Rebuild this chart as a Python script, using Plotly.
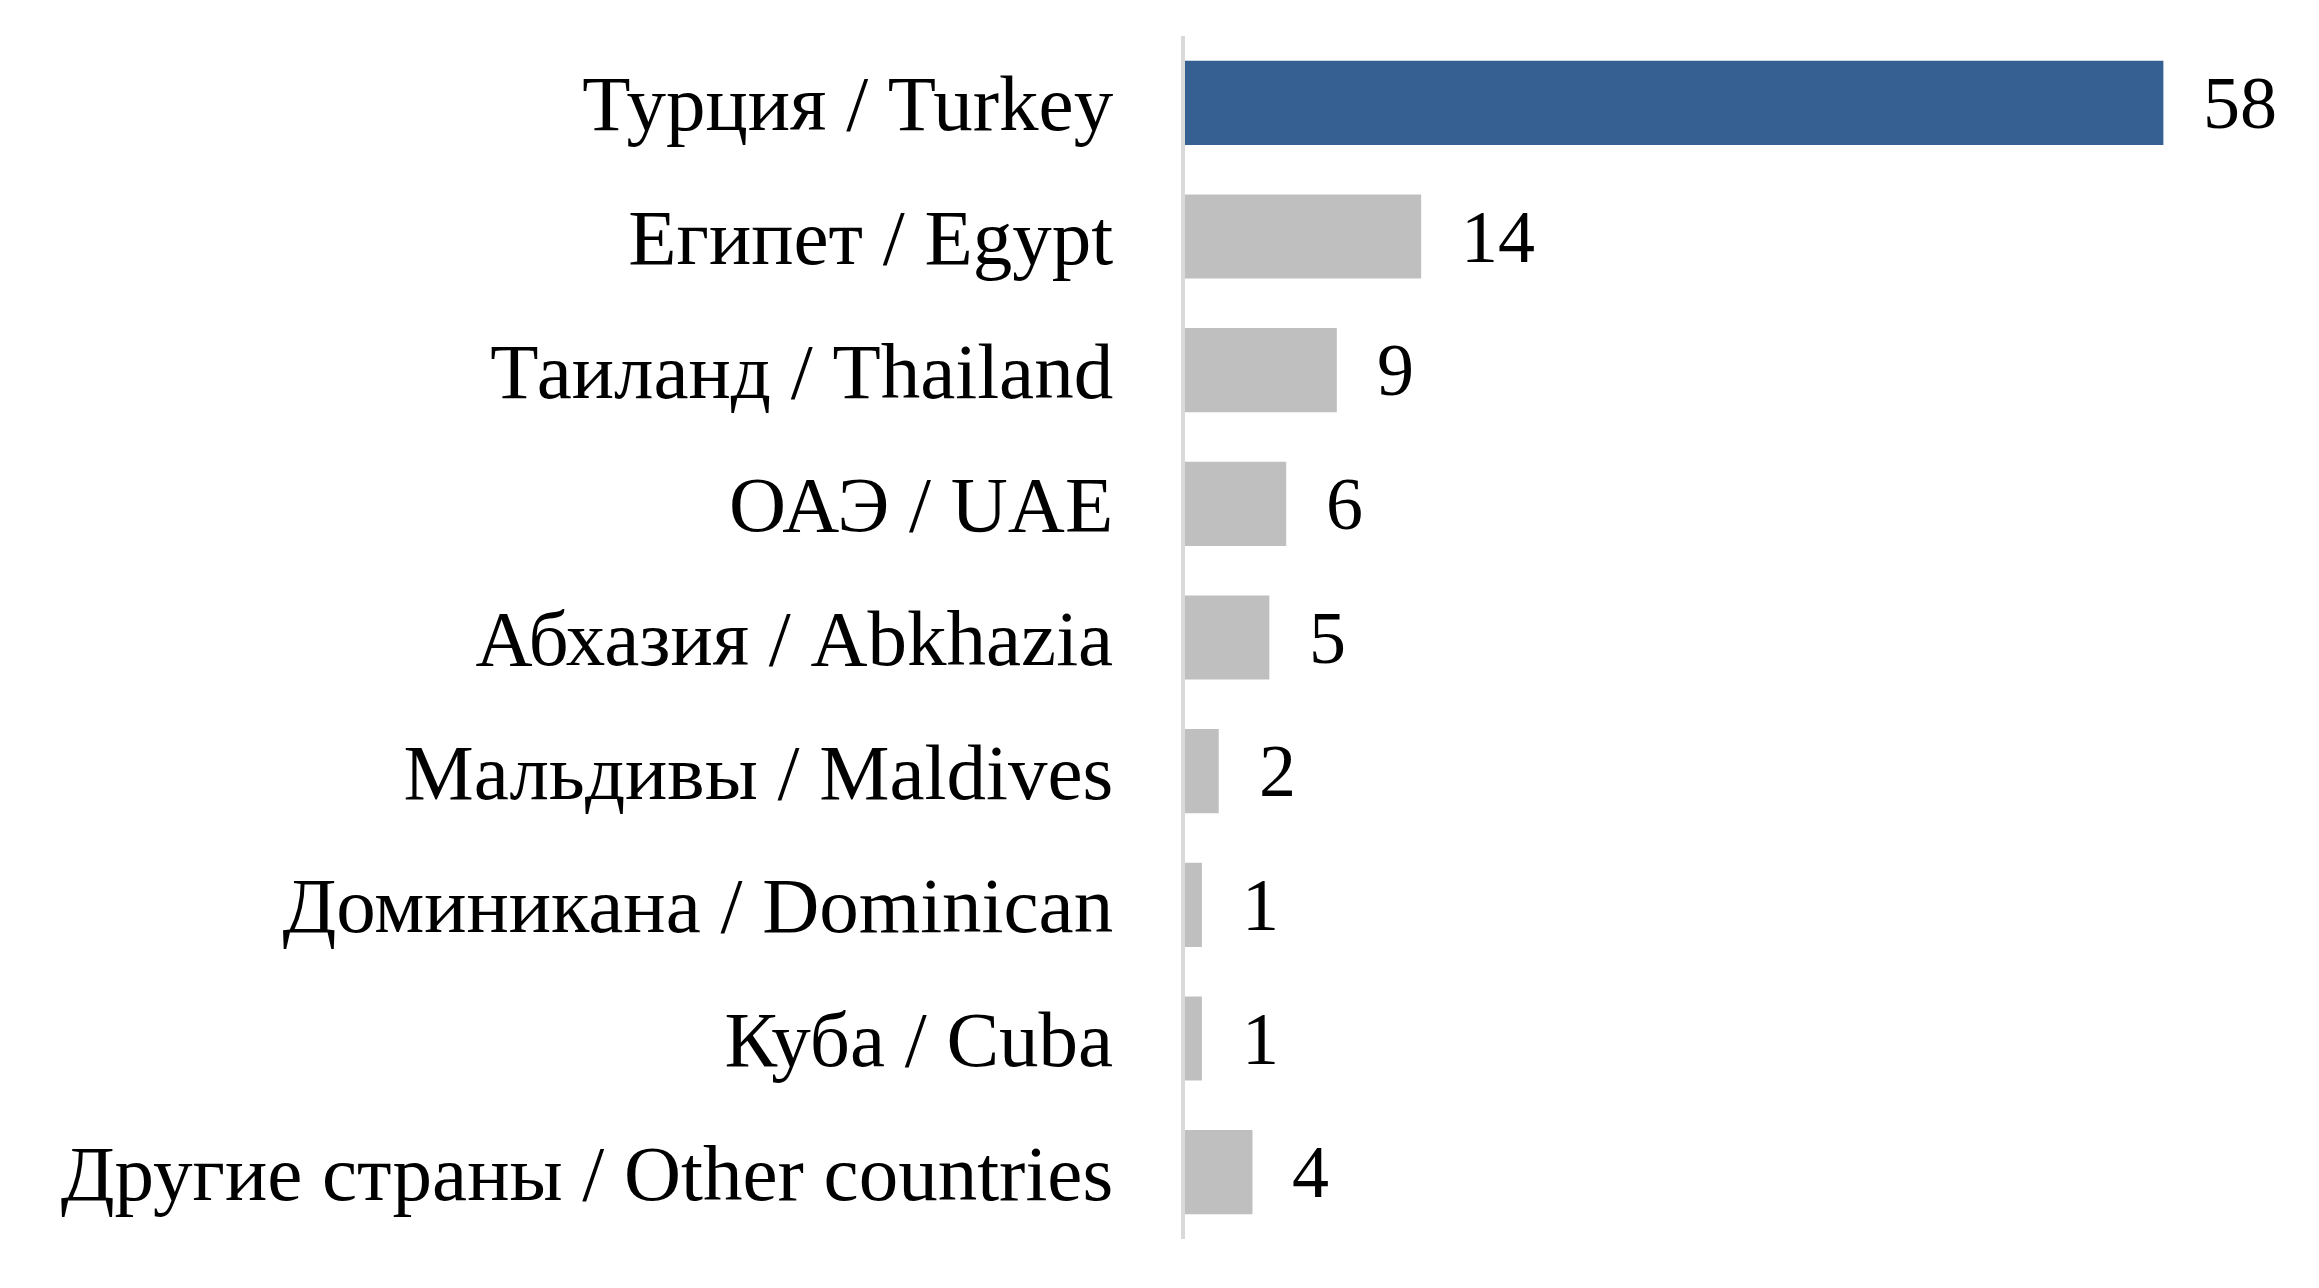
import plotly.graph_objects as go

# countries, top to bottom as in the chart
countries = [
    "Турция / Turkey",
    "Египет / Egypt",
    "Таиланд / Thailand",
    "ОАЭ / UAE",
    "Абхазия / Abkhazia",
    "Мальдивы / Maldives",
    "Доминикана / Dominican",
    "Куба / Cuba",
    "Другие страны / Other countries",
]
shares = [58, 14, 9, 6, 5, 2, 1, 1, 4]

BLUE = "#376092"
GREY = "#bfbfbf"
FONT = "Liberation Serif, Times New Roman, serif"

bar_colors = [BLUE] + [GREY] * (len(shares) - 1)

fig = go.Figure()
fig.add_trace(go.Bar(
    x=shares,
    y=countries,
    orientation="h",
    marker=dict(color=bar_colors, line=dict(width=0)),
    width=0.63,
    hoverinfo="x+y",
))

# value labels to the right of each bar
for c, v in zip(countries, shares):
    fig.add_annotation(
        x=v, y=c, text=str(v),
        showarrow=False, xanchor="left", yanchor="middle",
        xshift=38,
        font=dict(family=FONT, size=74, color="black"),
    )

fig.update_layout(
    width=2319, height=1288,
    margin=dict(l=1177, r=0, t=28, b=57),
    paper_bgcolor="white",
    plot_bgcolor="white",
    showlegend=False,
    font=dict(family=FONT, size=74, color="black"),
)
fig.update_xaxes(
    range=[0, 67.7],
    visible=False,
    showgrid=False,
    zeroline=False,
)
fig.update_yaxes(
    autorange="reversed",
    showgrid=False,
    showline=True,
    linecolor="#d9d9d9",
    linewidth=4,
    ticks="",
    ticklabelstandoff=52,
    tickfont=dict(family=FONT, size=79, color="black"),
)

fig.write_html("out.html")
